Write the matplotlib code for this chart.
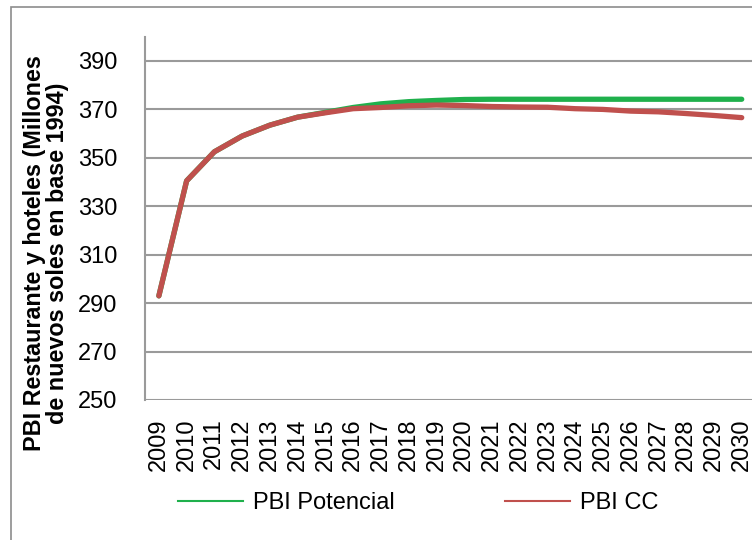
import matplotlib
matplotlib.use('Agg')
import matplotlib.pyplot as plt
from matplotlib.lines import Line2D
from matplotlib.patches import Rectangle

plt.rcParams['font.family'] = ['Liberation Sans', 'DejaVu Sans']

years = [str(y) for y in range(2009, 2031)]
pbi_potencial = [293.0, 340.5, 352.5, 359.0, 363.5, 366.8, 368.8, 370.8, 372.3, 373.2, 373.7,
                 374.1, 374.2, 374.2, 374.2, 374.2, 374.2, 374.2, 374.2, 374.2, 374.2, 374.2]
pbi_cc = [293.0, 340.5, 352.5, 359.0, 363.5, 366.8, 368.6, 370.3, 370.8, 371.5, 371.8,
          371.6, 371.2, 371.0, 370.9, 370.3, 370.0, 369.3, 369.0, 368.3, 367.5, 366.6]
yticks = [250, 270, 290, 310, 330, 350, 370, 390]

green = '#1fb04c'
red = '#c0504d'
grid_col = '#9a9a9a'

fig = plt.figure(figsize=(7.52, 5.4), dpi=100)
ax = fig.add_axes([0.1928, 0.2593, 0.812, 0.6726])

x = list(range(len(years)))
ax.plot(x, pbi_potencial, color=green, lw=3.8, solid_capstyle='round', zorder=3)
ax.plot(x, pbi_cc, color=red, lw=3.8, solid_capstyle='round', zorder=4)

ax.set_xlim(-0.5, len(years) - 0.5)
ax.set_ylim(250, 400)
ax.set_yticks(yticks)
ax.set_yticklabels([str(v) for v in yticks], fontsize=17)
ax.set_xticks(x)
ax.set_xticklabels(years, rotation=90, fontsize=17)
ax.tick_params(axis='y', length=0, pad=20)
ax.tick_params(axis='x', length=0, pad=13)
ax.yaxis.grid(True, color=grid_col, lw=1.5)
ax.set_axisbelow(True)
for s in ['top', 'right', 'bottom']:
    ax.spines[s].set_visible(False)
ax.spines['left'].set_color(grid_col)
ax.spines['left'].set_linewidth(1.5)

fig.text(46 / 752, 1 - 253 / 540,
         'PBI Restaurante y hoteles (Millones\nde nuevos soles en base 1994)',
         rotation=90, ha='center', va='center', multialignment='center',
         fontsize=16.8, fontweight='bold', linespacing=1.0)

handles = [Line2D([], [], color=green, lw=1.5), Line2D([], [], color=red, lw=1.5)]
fig.legend(handles, ['PBI Potencial', 'PBI CC'], loc='center',
           bbox_to_anchor=(0.556, 0.0685), ncol=2, frameon=False, fontsize=17,
           handlelength=2.75, handletextpad=0.42, columnspacing=4.7)

fig.patches.append(Rectangle((11 / 752, -0.2), 1.5, 1.2 - 7 / 540, transform=fig.transFigure,
                             fill=False, edgecolor='#8c8c8c', lw=1.2))

fig.savefig('out.png', dpi=100)
